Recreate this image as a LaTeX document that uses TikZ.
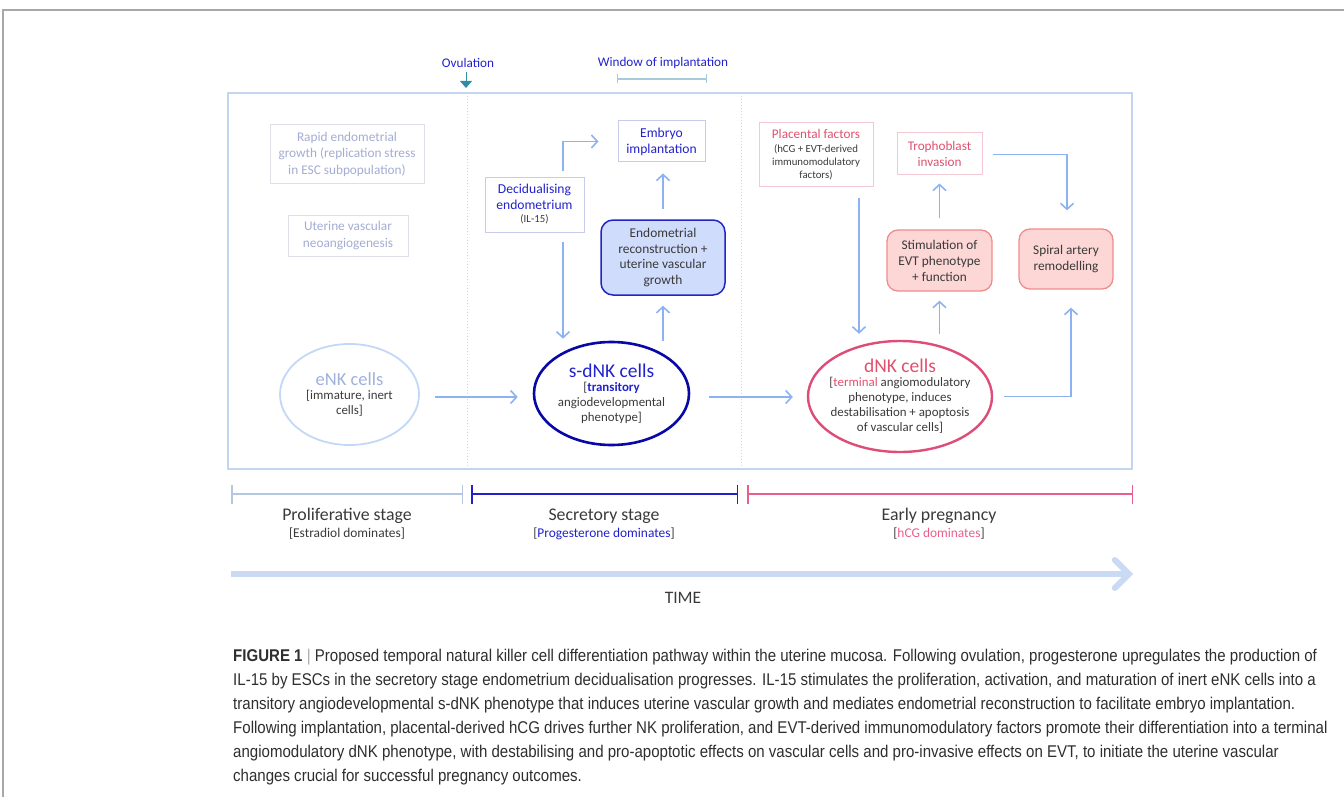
\documentclass[tikz,border=0pt]{standalone}
\usepackage{fontspec}
\setmainfont{Carlito}
\newfontfamily\capfont[FakeStretch=0.885]{Liberation Sans}
\usetikzlibrary{arrows.meta,calc,shapes.geometric}
\definecolor{arrowblue}{HTML}{8DB2F2}
\definecolor{faintbox}{HTML}{DEDFE8}
\definecolor{fainttext}{HTML}{A3ACD2}
\definecolor{enkline}{HTML}{C3D8F6}
\definecolor{enktext}{HTML}{9FB1DC}
\definecolor{txtdark}{HTML}{3A3A3A}
\definecolor{navy}{HTML}{0808A8}
\definecolor{bluetext}{HTML}{2222CC}
\definecolor{lavbox}{HTML}{C9CBEC}
\definecolor{endofill}{HTML}{CFDCFB}
\definecolor{endoline}{HTML}{2424C4}
\definecolor{pinktext}{HTML}{E0506E}
\definecolor{pinkbox}{HTML}{F2C8D2}
\definecolor{stimfill}{HTML}{FDD6D6}
\definecolor{stimline}{HTML}{F08C8C}
\definecolor{dnkline}{HTML}{DE4C78}
\definecolor{teal}{HTML}{2F8EA3}
\definecolor{winline}{HTML}{A9CBD8}
\definecolor{panelline}{HTML}{C2D5F1}
\definecolor{dotline}{HTML}{CBD9EE}
\definecolor{prolif}{HTML}{B4C6E2}
\definecolor{secr}{HTML}{2020CC}
\definecolor{early}{HTML}{E8608A}
\definecolor{timeline}{HTML}{CAD9F4}
\definecolor{captext}{HTML}{2E2E2E}
\definecolor{framegray}{HTML}{A8A8A8}
\tikzset{
  arr/.style={draw=arrowblue, line width=1.6pt, -{Straight Barb[length=6pt,width=13pt,line width=1.6pt]}},
  fadebox/.style={draw=faintbox, line width=1pt, text=fainttext, align=center, inner sep=0pt, font=\fontsize{13.3}{16.5}\selectfont},
  bluebox/.style={draw=lavbox, line width=1pt, text=bluetext, align=center, inner sep=0pt, font=\fontsize{13.6}{16}\selectfont},
  pinkrect/.style={draw=pinkbox, line width=1pt, text=pinktext, align=center, inner sep=0pt, font=\fontsize{13.2}{16}\selectfont},
  endobox/.style={draw=endoline, fill=endofill, line width=1.5pt, rounded corners=12pt, text=txtdark, align=center, inner sep=0pt, font=\fontsize{13.4}{15.7}\selectfont},
  stimbox/.style={draw=stimline, fill=stimfill, line width=1.3pt, rounded corners=11pt, text=txtdark, align=center, inner sep=0pt, font=\fontsize{13.3}{16}\selectfont},
  cell/.style={ellipse, inner sep=0pt},
  celltext/.style={align=center, inner sep=0pt, text=txtdark, font=\fontsize{12.9}{15}\selectfont},
  stagebar/.style={line width=1.8pt, {Bar[width=19pt,line width=1.5pt]}-{Bar[width=19pt,line width=1.5pt]}},
  stagelabel/.style={text=txtdark, inner sep=0pt, font=\fontsize{17.8}{19}\selectfont},
  stagesub/.style={text=txtdark, inner sep=0pt, font=\fontsize{13.4}{15}\selectfont},
}
\newcommand\smalltxt[1]{{\fontsize{10.8}{12.5}\selectfont\color{txtdark}#1}}
\begin{document}
\begin{tikzpicture}[x=1pt,y=-1pt]
\useasboundingbox (0,0) rectangle (1344,797);
% outer frame
\draw[framegray, line width=1.5pt] (3,797) -- (3,10) -- (1344,10);
% panel
\draw[panelline, line width=1.3pt] (228,93) rectangle (1132,469);
\draw[dotline, line width=1pt, dotted] (467,93) -- (467,469);
\draw[dotline, line width=1pt, dotted] (741,93) -- (741,469);
% top markers
\node[text=bluetext, inner sep=0pt, font=\fontsize{13.2}{15}\selectfont] (ovl) at (468,63) {Ovulation};
\coordinate (ov0) at (466,72);
\coordinate (ov1) at (466,88);
\draw[teal, line width=0.8pt, -{Triangle[length=7pt,width=12pt]}] (ov0) -- (ov1);
\node[text=bluetext, inner sep=0pt, font=\fontsize{13.2}{15}\selectfont] (win) at (663,63) {Window of implantation};
\coordinate (w0) at (617,79);
\coordinate (w1) at (707,79);
\draw[winline, line width=1.8pt, {Bar[width=9pt,line width=1pt]}-{Bar[width=9pt,line width=1pt]}] (w0) -- (w1);
% proliferative boxes
\node[fadebox, minimum width=154pt, minimum height=58pt] (rapid) at (347,154) {Rapid endometrial\\growth (replication stress\\in ESC subpopulation)};
\node[fadebox, minimum width=120pt, minimum height=41pt] (neo) at (348,235.5) {Uterine vascular\\neoangiogenesis};
% secretory boxes
\node[bluebox, minimum width=99pt, minimum height=55pt] (decid) at (534.5,204.5) {Decidualising\\endometrium\\[-3pt]\smalltxt{(IL-15)}};
\node[bluebox, minimum width=87pt, minimum height=41pt] (embryo) at (661.5,141.5) {Embryo\\implantation};
\node[endobox, minimum width=124pt, minimum height=75pt] (endo) at (663,257.5) {Endometrial\\reconstruction +\\uterine vascular\\growth};
% pregnancy boxes
\node[pinkrect, minimum width=114pt, minimum height=63pt] (plac) at (816,154.5) {Placental factors\\[-2pt]\smalltxt{(hCG + EVT-derived}\\[-3pt]\smalltxt{immunomodulatory}\\[-3pt]\smalltxt{factors)}};
\node[pinkrect, minimum width=85pt, minimum height=41pt] (troph) at (939.5,153.5) {Trophoblast\\invasion};
\node[stimbox, minimum width=105pt, minimum height=61pt] (stim) at (939.5,260.5) {Stimulation of\\EVT phenotype\\+ function};
\node[stimbox, minimum width=94pt, minimum height=60pt] (spiral) at (1066,259) {Spiral artery\\remodelling};
% cells
\node[cell, draw=enkline, line width=1.8pt, minimum width=139pt, minimum height=101pt] (enk) at (349.5,394.5) {};
\node[celltext] (enkt) at (enk.center) {{\fontsize{18.5}{20}\selectfont\color{enktext}eNK cells}\\[-1pt][immature, inert\\cells]};
\node[cell, draw=navy, line width=2.6pt, minimum width=155pt, minimum height=103pt] (sdnk) at (611.5,393.5) {};
\node[celltext] (sdnkt) at (sdnk.center) {{\fontsize{19.5}{21}\selectfont\color{bluetext}s-dNK cells}\\[-1pt][{\bfseries\color{bluetext}transitory}\\angiodevelopmental\\phenotype]};
\node[cell, draw=dnkline, line width=2.4pt, minimum width=184pt, minimum height=111pt] (dnk) at (900,396.5) {};
\node[celltext] (dnkt) at (dnk.center) {{\fontsize{19.5}{21}\selectfont\color{pinktext}dNK cells}\\[-1pt][{\color{pinktext}terminal} angiomodulatory\\phenotype, induces\\destabilisation + apoptosis\\of vascular cells]};
% connectors
\draw[arr] ([xshift=28.5pt,yshift=6pt]decid.north) |- ([xshift=-19pt]embryo.west);
\draw[arr] ([yshift=10pt]endo.north) -- ([yshift=-11pt]endo.north |- embryo.south);
\coordinate (dd) at ([xshift=28.5pt]decid.south);
\draw[arr] ([yshift=-9pt]dd) -- ([yshift=2pt]dd |- sdnk.north);
\draw[arr] (endo.south |- sdnk.north) -- ([yshift=-10pt]endo.south);
\draw[arr] ([xshift=15pt,yshift=-2.5pt]enk.east) -- ([xshift=-15pt,yshift=-2.5pt]enk.east -| sdnk.west);
\draw[arr] ([xshift=19pt,yshift=-3.5pt]sdnk.east) -- ([xshift=-14pt,yshift=-3.5pt]sdnk.east -| dnk.west);
\coordinate (pd) at ([xshift=43pt]plac.south);
\draw[arr] ([yshift=-11pt]pd) -- ([yshift=6pt]pd |- dnk.north);
\draw[arr] ([yshift=6pt]stim.south |- dnk.north) -- ([yshift=-9pt]stim.south);
\draw[arr] ([yshift=11pt]stim.north) -- ([yshift=-9pt]troph.south);
\draw[arr] ([xshift=10pt,yshift=-1pt]troph.east) -| ([xshift=1pt,yshift=18pt]spiral.north);
\draw[arr] ([xshift=11pt]dnk.east) -| ([xshift=5pt,yshift=-18pt]spiral.south);
% stage bars
\coordinate (p0) at (231,494); \coordinate (p1) at (463,494);
\coordinate (s0) at (471,494); \coordinate (s1) at (738,494);
\coordinate (e0) at (747,494); \coordinate (e1) at (1133,494);
\draw[stagebar, prolif] (p0) -- (p1);
\draw[stagebar, secr] (s0) -- (s1);
\draw[stagebar, early] (e0) -- (e1);
\node[stagelabel] (prl) at (347,516) {Proliferative stage};
\node[stagesub] (prs) at (347,534) {[Estradiol dominates]};
\node[stagelabel] (sel) at (604,516) {Secretory stage};
\node[stagesub] (ses) at (604,534) {[{\color{secr}Progesterone dominates}]};
\node[stagelabel] (eal) at (939,516) {Early pregnancy};
\node[stagesub] (eas) at (939,534) {[{\color{early}hCG dominates}]};
% time arrow
\coordinate (t0) at (231,574);
\coordinate (t1) at (1133,574);
\draw[timeline, line width=6pt, -{Straight Barb[length=14pt,width=28pt,line width=6pt,line cap=round]}] (t0) -- (t1);
\node[text=txtdark, inner sep=0pt, font=\fontsize{17.5}{19}\selectfont] (time) at (683,598) {TIME};
% caption
\node[anchor=north west, align=left, inner sep=0pt, text=captext, font=\capfont\fontsize{17}{24}\selectfont] (cap) at (233,649) {%
\textbf{FIGURE 1} {\color{framegray}|} Proposed temporal natural killer cell differentiation pathway within the uterine mucosa. Following ovulation, progesterone upregulates the production of\\
IL-15 by ESCs in the secretory stage endometrium decidualisation progresses. IL-15 stimulates the proliferation, activation, and maturation of inert eNK cells into a\\
transitory angiodevelopmental s-dNK phenotype that induces uterine vascular growth and mediates endometrial reconstruction to facilitate embryo implantation.\\
Following implantation, placental-derived hCG drives further NK proliferation, and EVT-derived immunomodulatory factors promote their differentiation into a terminal\\
angiomodulatory dNK phenotype, with destabilising and pro-apoptotic effects on vascular cells and pro-invasive effects on EVT, to initiate the uterine vascular\\
changes crucial for successful pregnancy outcomes.};
\end{tikzpicture}
\end{document}
